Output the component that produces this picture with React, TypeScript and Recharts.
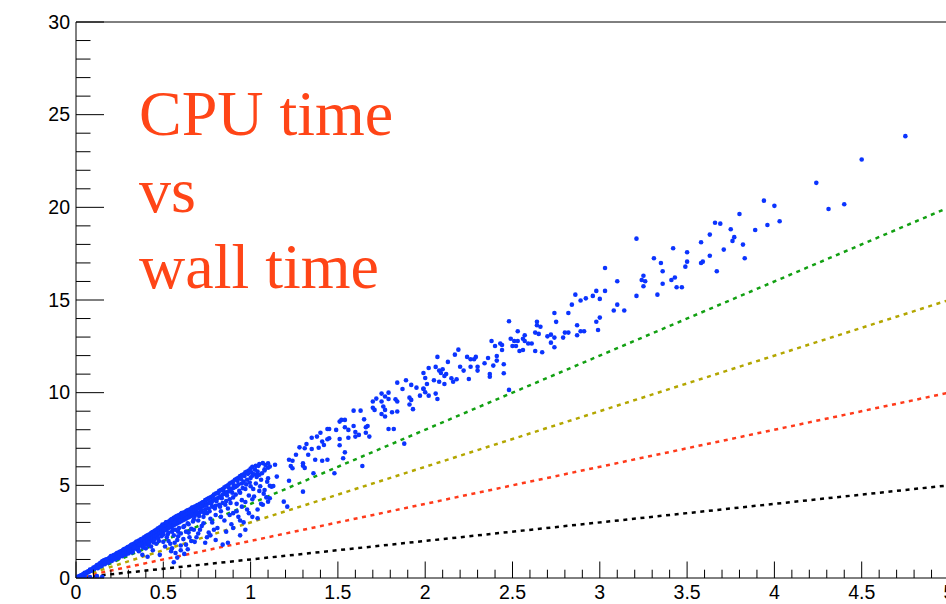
import { ScatterChart, Scatter, XAxis, YAxis, ReferenceLine } from 'recharts'

// axis ticks (ROOT style: major labelled, minor unlabelled, ticks pointing inward)
const xMajorTicks = [0, 0.5, 1, 1.5, 2, 2.5, 3, 3.5, 4, 4.5, 5]
const xTickLabels = ['0', '0.5', '1', '1.5', '2', '2.5', '3', '3.5', '4', '4.5', '5']
const yMajorTicks = [0, 5, 10, 15, 20, 25, 30]
const yTickLabels = ['0', '5', '10', '15', '20', '25', '30']
const xMinorStep = 0.1
const yMinorStep = 1

const xTicks = Array.from({ length: 51 }, (_, i) => Number((i * xMinorStep).toFixed(1)))
const yTicks = Array.from({ length: 31 }, (_, i) => i * yMinorStep)

// reference lines cpu = k * wall (k = 4, 3, 2, 1)
const refWall = [0, 5]
const cpu4 = [0, 20]
const cpu3 = [0, 15]
const cpu2 = [0, 10]
const cpu1 = [0, 5]

const titleLines = ['CPU time', 'vs', 'wall time']

// measured jobs: [wall time, cpu time]
const denseJobs: [number, number][] = [
  [0.01, 0.05], [0.02, 0.1], [0.02, 0.06], [0.03, 0.15], [0.03, 0.12], [0.04, 0.2], [0.04, 0.17], [0.05, 0.25],
  [0.05, 0.22], [0.05, 0.28], [0.06, 0.3], [0.06, 0.26], [0.07, 0.36], [0.07, 0.31], [0.08, 0.42], [0.08, 0.38],
  [0.08, 0.45], [0.09, 0.47], [0.09, 0.4], [0.1, 0.52], [0.1, 0.57], [0.1, 0.48], [0.04, 0.02], [0.08, 0.05],
  [0.12, 0.1], [0.05, 0.05], [0.15, 0.06],
  [0.015, 0.08], [0.025, 0.12], [0.035, 0.16], [0.045, 0.22], [0.055, 0.27], [0.065, 0.33], [0.075, 0.34],
  [0.085, 0.43], [0.095, 0.45],
  [0.11, 0.6], [0.11, 0.55], [0.12, 0.65], [0.12, 0.58], [0.12, 0.7], [0.13, 0.72], [0.13, 0.66], [0.14, 0.78],
  [0.14, 0.7], [0.14, 0.82], [0.15, 0.85], [0.15, 0.78], [0.15, 0.9], [0.16, 0.88], [0.16, 0.82], [0.16, 0.95],
  [0.17, 0.95], [0.17, 0.88], [0.17, 1.0], [0.18, 1.02], [0.18, 0.94], [0.18, 0.86], [0.19, 1.08], [0.19, 1.0],
  [0.19, 0.92], [0.2, 1.12], [0.2, 1.05], [0.2, 0.98], [0.2, 1.18],
  [0.105, 0.5], [0.115, 0.62], [0.125, 0.6], [0.135, 0.76], [0.145, 0.68], [0.155, 0.92], [0.165, 0.8],
  [0.175, 0.98], [0.185, 0.9], [0.195, 1.12], [0.205, 1.0], [0.215, 1.22], [0.225, 1.1], [0.235, 1.34],
  [0.245, 1.2], [0.255, 1.4], [0.265, 1.3], [0.275, 1.55], [0.285, 1.42], [0.295, 1.66],
  [0.125, 0.53], [0.145, 0.63], [0.165, 0.74], [0.185, 0.82], [0.205, 0.92], [0.225, 1.0], [0.245, 1.08],
  [0.265, 1.18], [0.285, 1.26],
  [0.21, 1.2], [0.21, 1.1], [0.22, 1.25], [0.22, 1.15], [0.22, 1.05], [0.23, 1.3], [0.23, 1.2], [0.23, 1.1],
  [0.24, 1.36], [0.24, 1.26], [0.24, 1.16], [0.25, 1.42], [0.25, 1.32], [0.25, 1.2], [0.26, 1.46], [0.26, 1.36],
  [0.26, 1.25], [0.27, 1.52], [0.27, 1.42], [0.27, 1.3], [0.28, 1.58], [0.28, 1.48], [0.28, 1.35], [0.29, 1.62],
  [0.29, 1.5], [0.29, 1.38], [0.3, 1.68], [0.3, 1.56], [0.3, 1.45], [0.3, 1.32],
  [0.31, 1.72], [0.31, 1.6], [0.31, 1.48], [0.32, 1.8], [0.32, 1.66], [0.32, 1.52], [0.33, 1.85], [0.33, 1.72],
  [0.33, 1.58], [0.34, 1.9], [0.34, 1.78], [0.34, 1.62], [0.35, 1.96], [0.35, 1.84], [0.35, 1.7], [0.35, 1.55],
  [0.36, 2.02], [0.36, 1.88], [0.36, 1.74], [0.37, 2.08], [0.37, 1.95], [0.37, 1.8], [0.38, 2.12], [0.38, 2.0],
  [0.38, 1.86], [0.38, 1.7], [0.39, 2.2], [0.39, 2.06], [0.39, 1.9], [0.4, 2.25], [0.4, 2.12], [0.4, 1.98], [0.4, 1.82],
  [0.305, 1.5], [0.315, 1.78], [0.325, 1.42], [0.335, 1.66], [0.345, 1.95], [0.355, 1.6], [0.365, 1.82],
  [0.375, 2.1], [0.385, 1.64], [0.395, 1.96], [0.405, 2.28], [0.415, 1.78], [0.425, 2.14], [0.435, 2.45],
  [0.445, 1.92], [0.455, 2.32], [0.465, 2.62], [0.475, 2.0], [0.485, 2.5], [0.495, 2.88],
  [0.32, 1.38], [0.36, 1.45], [0.4, 1.6], [0.43, 1.7], [0.46, 1.85], [0.48, 1.25], [0.44, 1.5], [0.38, 1.25],
  [0.41, 1.15],
  [0.41, 2.3], [0.41, 2.16], [0.41, 2.02], [0.42, 2.36], [0.42, 2.22], [0.42, 2.08], [0.42, 1.9], [0.43, 2.42],
  [0.43, 2.28], [0.43, 2.12], [0.44, 2.48], [0.44, 2.34], [0.44, 2.18], [0.44, 2.0], [0.45, 2.55], [0.45, 2.4],
  [0.45, 2.25], [0.45, 2.08], [0.46, 2.6], [0.46, 2.46], [0.46, 2.3], [0.47, 2.68], [0.47, 2.52], [0.47, 2.36],
  [0.47, 2.15], [0.48, 2.74], [0.48, 2.58], [0.48, 2.42], [0.49, 2.8], [0.49, 2.64], [0.49, 2.46], [0.49, 2.25],
  [0.5, 2.86], [0.5, 2.7], [0.5, 2.52], [0.5, 2.35], [0.5, 1.95],
  [0.51, 2.92], [0.51, 2.76], [0.51, 2.58], [0.52, 3.0], [0.52, 2.82], [0.52, 2.64], [0.52, 2.2], [0.53, 3.05],
  [0.53, 2.88], [0.53, 2.7], [0.53, 2.45], [0.54, 3.12], [0.54, 2.95], [0.54, 2.75], [0.54, 1.85], [0.55, 3.18],
  [0.55, 3.0], [0.55, 2.8], [0.55, 2.5], [0.55, 1.6], [0.56, 3.25], [0.56, 3.05], [0.56, 2.85], [0.56, 2.3],
  [0.57, 3.3], [0.57, 3.1], [0.57, 2.9], [0.57, 2.6], [0.57, 1.35], [0.58, 3.36], [0.58, 3.15], [0.58, 2.95],
  [0.58, 2.05], [0.59, 3.4], [0.59, 3.2], [0.59, 3.0], [0.59, 2.7], [0.6, 3.45], [0.6, 3.25], [0.6, 3.05],
  [0.6, 2.4], [0.6, 1.75], [0.56, 0.85], [0.58, 1.1],
  [0.505, 2.6], [0.515, 3.0], [0.525, 2.35], [0.535, 2.78], [0.545, 3.15], [0.555, 2.62], [0.565, 2.98],
  [0.575, 3.32], [0.585, 2.5], [0.595, 3.1], [0.605, 3.5], [0.615, 2.75], [0.625, 3.25], [0.635, 3.62],
  [0.645, 2.9], [0.655, 3.42], [0.665, 3.8], [0.675, 3.15], [0.685, 3.55], [0.695, 3.92],
  [0.51, 1.7], [0.53, 2.0], [0.545, 1.45], [0.565, 1.9], [0.585, 2.25], [0.6, 1.5], [0.615, 2.1], [0.63, 1.8],
  [0.645, 2.45], [0.66, 2.0], [0.675, 2.6], [0.69, 2.2], [0.62, 1.3], [0.64, 1.55],
  [0.61, 3.5], [0.61, 3.3], [0.61, 3.1], [0.62, 3.55], [0.62, 3.35], [0.62, 3.15], [0.62, 2.8], [0.63, 3.6],
  [0.63, 3.4], [0.63, 3.2], [0.63, 2.5], [0.64, 3.65], [0.64, 3.45], [0.64, 3.25], [0.64, 2.95], [0.65, 3.7],
  [0.65, 3.5], [0.65, 3.3], [0.65, 2.2], [0.66, 3.75], [0.66, 3.55], [0.66, 3.35], [0.66, 2.65], [0.67, 3.8],
  [0.67, 3.6], [0.67, 3.4], [0.67, 3.05], [0.68, 3.85], [0.68, 3.65], [0.68, 3.35], [0.68, 1.95], [0.69, 3.9],
  [0.69, 3.7], [0.69, 3.45], [0.7, 3.95], [0.7, 3.75], [0.7, 3.5], [0.7, 3.1], [0.7, 2.4], [0.71, 4.0],
  [0.71, 3.8], [0.71, 3.55], [0.72, 4.05], [0.72, 3.85], [0.72, 3.6], [0.72, 2.8], [0.73, 4.1], [0.73, 3.9],
  [0.73, 3.3], [0.74, 4.2], [0.74, 3.95], [0.74, 3.7], [0.75, 4.25], [0.75, 4.0], [0.75, 3.5], [0.75, 2.2],
  [0.76, 4.3], [0.76, 4.05], [0.76, 3.75], [0.77, 4.35], [0.77, 4.1], [0.77, 3.2], [0.78, 4.4], [0.78, 4.15],
  [0.78, 3.85], [0.79, 4.5], [0.79, 4.2], [0.79, 2.6], [0.8, 4.55], [0.8, 4.25], [0.8, 3.9], [0.8, 3.4],
  [0.705, 3.35], [0.715, 3.7], [0.725, 4.08], [0.735, 3.5], [0.745, 3.9], [0.755, 4.28], [0.765, 3.6],
  [0.775, 4.0], [0.785, 4.42], [0.795, 3.75], [0.805, 4.15], [0.815, 4.58], [0.825, 3.85], [0.835, 4.3],
  [0.845, 4.72], [0.855, 3.95], [0.865, 4.45], [0.875, 4.88], [0.885, 4.05], [0.895, 4.6],
  [0.71, 2.6], [0.73, 2.95], [0.76, 2.45], [0.78, 3.0], [0.81, 2.7], [0.83, 3.3], [0.86, 2.5], [0.88, 3.4],
  [0.8, 2.05], [0.9, 2.7], [0.74, 1.9], [0.77, 2.3],
  [0.81, 4.6], [0.81, 4.3], [0.82, 4.7], [0.82, 4.35], [0.82, 3.95], [0.83, 4.75], [0.83, 4.4], [0.83, 3.6],
  [0.84, 4.8], [0.84, 4.5], [0.84, 4.05], [0.85, 4.9], [0.85, 4.55], [0.85, 3.1], [0.86, 4.95], [0.86, 4.6],
  [0.86, 4.15], [0.87, 5.0], [0.87, 4.65], [0.87, 3.75], [0.88, 5.1], [0.88, 4.7], [0.88, 4.25], [0.89, 5.15],
  [0.89, 4.8], [0.89, 2.9], [0.9, 5.2], [0.9, 4.85], [0.9, 4.35], [0.9, 3.5], [0.91, 5.3], [0.91, 4.9],
  [0.92, 5.35], [0.92, 4.95], [0.92, 4.0], [0.93, 5.4], [0.93, 5.05], [0.93, 3.3], [0.94, 5.5], [0.94, 4.6],
  [0.95, 5.55], [0.95, 5.1], [0.95, 4.2], [0.96, 5.6], [0.96, 5.2], [0.96, 3.0], [0.97, 5.7], [0.97, 4.8],
  [0.98, 5.75], [0.98, 5.3], [0.98, 3.7], [0.99, 5.8], [0.99, 4.45], [1.0, 5.9], [1.0, 5.4], [1.0, 4.95],
  [1.01, 6.0], [1.01, 3.3], [1.02, 5.6], [1.02, 4.4], [1.03, 6.05], [1.03, 5.1], [1.04, 5.75], [1.05, 6.15],
  [1.05, 4.7], [1.06, 5.3], [1.07, 6.2], [1.07, 3.95], [1.08, 5.8], [1.09, 4.35], [1.1, 5.95],
  [0.905, 5.0], [0.915, 4.5], [0.925, 5.25], [0.935, 4.7], [0.945, 5.35], [0.955, 4.85], [0.965, 5.5],
  [0.975, 5.05], [0.985, 5.62], [0.995, 5.15], [1.005, 5.7], [1.015, 4.8], [1.025, 5.85], [1.035, 5.45],
  [1.045, 6.05], [1.055, 4.95], [1.065, 5.65], [1.075, 4.55], [1.085, 6.1], [1.095, 5.2],
  [0.92, 3.6], [0.95, 3.85], [0.97, 4.1], [0.99, 3.5], [1.01, 4.25], [1.04, 3.7], [0.94, 3.1], [0.97, 2.6],
  [1.06, 4.0],
  [0.84, 1.8], [0.87, 1.9], [0.94, 2.3],
]

const sparseJobs: [number, number][] = [
  [1.48, 5.65], [1.53, 6.46], [1.3, 4.66], [1.19, 4.12], [1.21, 3.85], [1.08, 4.75], [1.04, 3.22], [1.1, 4.12],
  [1.11, 4.3],
  [1.84, 10.54], [1.89, 10.67], [1.92, 10.42], [1.95, 10.27], [1.87, 10.2], [1.99, 10.22], [1.75, 9.95], [1.79, 10.0],
  [1.72, 9.68], [1.77, 9.79], [1.79, 9.66], [1.75, 9.52], [1.83, 9.64], [1.84, 9.52], [1.91, 9.73], [1.92, 9.61],
  [1.91, 9.36], [1.93, 9.11], [1.7, 9.52], [1.7, 9.19], [1.71, 9.07], [1.76, 9.25], [1.77, 9.07], [1.77, 8.71],
  [1.75, 8.85], [1.81, 8.94], [1.84, 8.98], [1.63, 9.03], [1.59, 9.03], [1.65, 8.56], [1.79, 8.04], [1.82, 8.04],
  [1.88, 7.25], [1.51, 8.44], [1.52, 8.53], [1.54, 8.53], [1.59, 8.2], [1.54, 8.13], [1.49, 7.99], [1.44, 8.04],
  [1.45, 8.04], [1.56, 7.99], [1.66, 8.13], [1.67, 8.2], [1.6, 7.88], [1.6, 7.63], [1.62, 7.72], [1.66, 7.84],
  [1.68, 7.63], [1.56, 7.57], [1.51, 7.5], [1.4, 7.84], [1.38, 7.63], [1.45, 7.54], [1.44, 7.49], [1.35, 7.57],
  [1.41, 7.36], [1.42, 7.18], [1.51, 7.16], [1.54, 6.78], [1.32, 7.23], [1.31, 7.0], [1.39, 7.03], [1.35, 6.96],
  [1.28, 7.05], [1.33, 6.65], [1.26, 6.65], [1.22, 6.38], [1.37, 6.38], [1.41, 6.33], [1.44, 6.38], [1.24, 6.33],
  [1.3, 6.19], [1.23, 6.04], [1.24, 5.92], [1.3, 6.06], [1.31, 5.94], [1.64, 6.04], [1.1, 6.19], [1.14, 6.11],
  [1.11, 6.01], [1.08, 5.87], [1.04, 5.57], [1.05, 5.57], [1.01, 5.52], [1.1, 5.38], [1.15, 5.47], [1.36, 5.65],
  [1.22, 5.25], [1.12, 4.93], [1.13, 4.96], [1.11, 4.98],
  [2.86, 15.29], [2.98, 15.49], [2.92, 15.09], [2.96, 15.22], [2.89, 14.97], [2.84, 14.75], [2.74, 14.3], [2.82, 14.3],
  [2.98, 13.83], [2.75, 13.82], [2.87, 13.64], [2.48, 13.85], [2.64, 13.83], [2.64, 13.64], [2.66, 13.56], [2.53, 13.31],
  [2.63, 13.24], [2.65, 13.17], [2.8, 13.24], [2.82, 13.24], [2.89, 13.31], [2.91, 13.31], [2.87, 13.1], [2.99, 13.38],
  [2.7, 13.04], [2.72, 13.13], [2.74, 12.97], [2.79, 12.97], [2.57, 13.1], [2.49, 12.91], [2.51, 12.79], [2.53, 12.79],
  [2.56, 12.91], [2.57, 12.79], [2.38, 12.79], [2.4, 12.52], [2.43, 12.65], [2.44, 12.57], [2.44, 12.3], [2.5, 12.52],
  [2.52, 12.52], [2.59, 12.65], [2.61, 12.65], [2.54, 12.25], [2.56, 12.3], [2.63, 12.25], [2.67, 12.18], [2.72, 12.7],
  [2.74, 12.45], [2.19, 12.32], [2.17, 12.05], [2.07, 11.93], [2.24, 11.93], [2.26, 11.8], [2.28, 11.8], [2.29, 11.93],
  [2.36, 11.87], [2.41, 11.98], [2.41, 11.73], [2.34, 11.59], [2.39, 11.46], [2.45, 11.53], [2.13, 11.66], [2.2, 11.4],
  [2.22, 11.19], [2.26, 11.4], [2.3, 11.4], [2.3, 11.19], [2.02, 11.33], [2.06, 11.39], [1.99, 11.06], [2.08, 11.19],
  [2.1, 11.26], [2.09, 11.06], [2.12, 11.01], [2.11, 10.9], [2.15, 10.78], [2.18, 10.72], [2.16, 10.59], [2.0, 10.79],
  [2.05, 10.67], [2.08, 10.59], [2.11, 10.47], [2.25, 10.74], [2.37, 11.01], [2.37, 10.86], [2.45, 11.05], [2.01, 10.47],
  [1.99, 10.2], [1.97, 9.84], [2.02, 9.84], [2.06, 9.95], [2.0, 10.02], [2.07, 9.66], [2.48, 10.15],
  [4.75, 23.84], [4.5, 22.58], [4.24, 21.32], [4.31, 19.91], [4.4, 20.17],
  [3.94, 20.36], [4.0, 20.08], [3.8, 19.64], [3.66, 19.17], [3.69, 19.12], [4.03, 19.25], [3.96, 19.05], [3.75, 18.82],
  [3.89, 18.78], [3.63, 18.53], [3.77, 18.39], [3.76, 18.19], [3.21, 18.31], [3.58, 18.12], [3.82, 17.99], [3.42, 17.79],
  [3.71, 17.72], [3.5, 17.58], [3.31, 17.25], [3.83, 17.25], [3.63, 17.39], [3.35, 17.0], [3.5, 17.07], [3.59, 17.07],
  [3.58, 17.0], [3.49, 16.8], [3.03, 16.73], [3.36, 16.55], [3.67, 16.55], [3.25, 16.31], [3.24, 16.08], [3.26, 16.01],
  [3.1, 16.01], [3.43, 16.21], [3.41, 16.08], [3.36, 15.88], [3.25, 15.74], [3.44, 15.69], [3.47, 15.69], [3.03, 15.49],
  [3.21, 15.22], [3.33, 15.29], [3.0, 15.06], [3.1, 14.75], [3.08, 14.43], [3.14, 14.43], [3.0, 14.05],
]

const jobs = [...denseJobs, ...sparseJobs].map(([x, y]) => ({ x, y }))
const toLine = (ys: number[]) => refWall.map((x, i) => ({ x, y: ys[i] }))

const FONT = '"Liberation Sans", Arial, Helvetica, sans-serif'

function labelFor(value: number, ticks: number[], labels: string[]) {
  const i = ticks.findIndex((t) => Math.abs(t - value) < 1e-6)
  return i >= 0 ? labels[i] : null
}

function XTick(props: any) {
  const { x, y, payload } = props
  const label = labelFor(payload.value, xMajorTicks, xTickLabels)
  return (
    <g>
      <line x1={x} x2={x} y1={y} y2={y - (label ? 16.5 : 8.3)} stroke="#000" strokeWidth={1} />
      {label && (
        <text x={x} y={y + 21} textAnchor="middle" fontSize={19.5} fontFamily={FONT} fill="#000">
          {label}
        </text>
      )}
    </g>
  )
}

function YTick(props: any) {
  const { x, y, payload } = props
  const label = labelFor(payload.value, yMajorTicks, yTickLabels)
  return (
    <g>
      <line x1={x} x2={x + (label ? 28 : 14.5)} y1={y} y2={y} stroke="#000" strokeWidth={1} />
      {label && (
        <text x={x - 6} y={y} dy="0.35em" textAnchor="end" fontSize={19.5} fontFamily={FONT} fill="#000">
          {label}
        </text>
      )}
    </g>
  )
}

const Dot = (props: any) => <circle cx={props.cx} cy={props.cy} r={2.3} fill="#0b34ff" />
const NoDot = () => <g />

const dotted = (stroke: string) => ({ stroke, strokeWidth: 2.5, strokeDasharray: '4 4.6' })

export default function App() {
  return (
    <div
      style={{
        position: 'fixed',
        left: 0,
        top: 0,
        width: 946,
        height: 604,
        overflow: 'hidden',
        background: '#fff',
      }}
    >
      <ScatterChart width={980} height={604} margin={{ top: 22, right: 31, bottom: 0, left: 0 }}>
        <XAxis
          type="number"
          dataKey="x"
          domain={[0, 5]}
          ticks={xTicks}
          interval={0}
          tickSize={0}
          tickMargin={0}
          tickLine={false}
          axisLine={{ stroke: '#000' }}
          height={26}
          tick={XTick}
          allowDataOverflow
        />
        <YAxis
          type="number"
          dataKey="y"
          domain={[0, 30]}
          ticks={yTicks}
          interval={0}
          tickSize={0}
          tickMargin={0}
          tickLine={false}
          axisLine={{ stroke: '#000' }}
          width={76}
          tick={YTick}
          allowDataOverflow
        />
        <ReferenceLine y={30} stroke="#000" />
        <ReferenceLine x={5} stroke="#000" />
        <Scatter data={toLine(cpu1)} line={dotted('#000')} shape={NoDot} isAnimationActive={false} />
        <Scatter data={toLine(cpu2)} line={dotted('#ff3a1a')} shape={NoDot} isAnimationActive={false} />
        <Scatter data={toLine(cpu3)} line={dotted('#b3a600')} shape={NoDot} isAnimationActive={false} />
        <Scatter data={toLine(cpu4)} line={dotted('#12a012')} shape={NoDot} isAnimationActive={false} />
        <Scatter data={jobs} shape={Dot} isAnimationActive={false} />
      </ScatterChart>
      <svg
        width={946}
        height={604}
        style={{ position: 'absolute', left: 0, top: 0, pointerEvents: 'none' }}
      >
        {titleLines.map((t, i) => (
          <text
            key={t}
            x={139}
            y={135 + i * 76.7}
            fontSize={64}
            fontFamily='"Liberation Serif", "Times New Roman", serif'
            fill="#ff4517"
          >
            {t}
          </text>
        ))}
      </svg>
    </div>
  )
}
